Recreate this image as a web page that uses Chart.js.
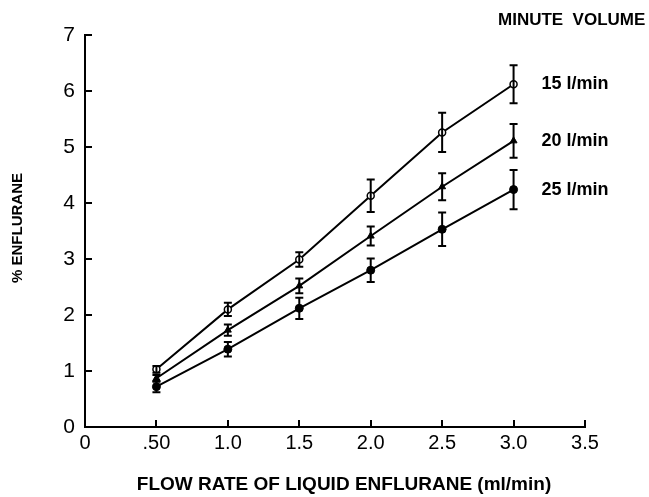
<!DOCTYPE html>
<html><head><meta charset="utf-8">
<script src="https://cdn.jsdelivr.net/npm/chart.js@4"></script>
<style>html,body{margin:0;padding:0;background:#fff}#wrap{width:649px;height:497px}</style>
</head><body><div id="wrap"><canvas id="c" width="649" height="497"></canvas></div>
<script>
const flowRates = [0.5, 1.0, 1.5, 2.0, 2.5, 3.0];
const series15 = [1.03, 2.10, 2.99, 4.13, 5.26, 6.12];
const err15 = [0.06, 0.12, 0.13, 0.29, 0.35, 0.34];
const series20 = [0.87, 1.73, 2.52, 3.41, 4.29, 5.11];
const err20 = [0.06, 0.10, 0.13, 0.17, 0.24, 0.30];
const series25 = [0.72, 1.39, 2.12, 2.80, 3.53, 4.24];
const err25 = [0.10, 0.13, 0.19, 0.21, 0.30, 0.35];
const seriesLabels = ['15 l/min', '20 l/min', '25 l/min'];
const xTicks = [0, 0.5, 1.0, 1.5, 2.0, 2.5, 3.0, 3.5];
const xTickLabels = ['0', '.50', '1.0', '1.5', '2.0', '2.5', '3.0', '3.5'];
const yTicks = [0, 1, 2, 3, 4, 5, 6, 7];
const xTitle = 'FLOW RATE OF LIQUID ENFLURANE (ml/min)';
const yTitle = '% ENFLURANE';
const legendTitle = 'MINUTE  VOLUME';

const FONT = '"Liberation Sans", Arial, sans-serif';
const errs = [err15, err20, err25];

function pts(vals) { return flowRates.map((x, i) => ({ x: x, y: vals[i] })); }

const decor = {
  id: 'decor',
  afterDatasetsDraw(chart) {
    const ctx = chart.ctx;
    const xs = chart.scales.x, ys = chart.scales.y;
    const a = chart.chartArea;
    ctx.save();
    ctx.strokeStyle = '#000';
    ctx.fillStyle = '#000';
    // inward tick marks
    ctx.lineWidth = 2;
    xTicks.forEach(v => {
      const px = Math.round(xs.getPixelForValue(v));
      ctx.beginPath(); ctx.moveTo(px, a.bottom); ctx.lineTo(px, a.bottom - 7); ctx.stroke();
    });
    yTicks.forEach(v => {
      const py = Math.round(ys.getPixelForValue(v));
      ctx.beginPath(); ctx.moveTo(a.left, py); ctx.lineTo(a.left + 7, py); ctx.stroke();
    });
    // error bars
    chart.data.datasets.forEach((ds, di) => {
      const e = errs[di];
      ds.data.forEach((p, i) => {
        const px = xs.getPixelForValue(p.x);
        const top = ys.getPixelForValue(p.y + e[i]);
        const bot = ys.getPixelForValue(p.y - e[i]);
        ctx.lineWidth = 2;
        ctx.beginPath();
        ctx.moveTo(px, top); ctx.lineTo(px, bot);
        ctx.moveTo(px - 4, top); ctx.lineTo(px + 4, top);
        ctx.moveTo(px - 4, bot); ctx.lineTo(px + 4, bot);
        ctx.stroke();
      });
    });
    // series labels at line ends
    ctx.font = 'bold 18px ' + FONT;
    ctx.textAlign = 'left';
    ctx.textBaseline = 'middle';
    chart.data.datasets.forEach((ds, di) => {
      const last = ds.data[ds.data.length - 1];
      ctx.fillText(seriesLabels[di], xs.getPixelForValue(last.x) + 28, ys.getPixelForValue(last.y));
    });
    // legend title
    ctx.font = 'bold 17px ' + FONT;
    ctx.textAlign = 'left';
    ctx.textBaseline = 'middle';
    ctx.fillText(legendTitle, 498, 20);
    // axis titles
    ctx.font = 'bold 19px ' + FONT;
    ctx.textAlign = 'center';
    ctx.fillText(xTitle, 344, 485);
    ctx.save();
    ctx.translate(18, 228);
    ctx.rotate(-Math.PI / 2);
    ctx.font = 'bold 15px ' + FONT;
    ctx.fillText(yTitle, 0, 0);
    ctx.restore();
    ctx.restore();
  }
};

new Chart(document.getElementById('c'), {
  type: 'line',
  data: {
    datasets: [
      { label: seriesLabels[0], data: pts(series15), borderColor: '#000', borderWidth: 2, pointStyle: 'circle', pointRadius: 3.5, pointBackgroundColor: '#fff', pointBorderColor: '#000', pointBorderWidth: 1.5, tension: 0 },
      { label: seriesLabels[1], data: pts(series20), borderColor: '#000', borderWidth: 2, pointStyle: 'triangle', pointRadius: 4, pointBackgroundColor: '#000', pointBorderColor: '#000', pointBorderWidth: 1, tension: 0 },
      { label: seriesLabels[2], data: pts(series25), borderColor: '#000', borderWidth: 2, pointStyle: 'circle', pointRadius: 4, pointBackgroundColor: '#000', pointBorderColor: '#000', pointBorderWidth: 1, tension: 0 }
    ]
  },
  options: {
    responsive: false,
    animation: false,
    devicePixelRatio: 1,
    layout: { padding: { top: 35, right: 64, bottom: 0, left: 0 } },
    plugins: { legend: { display: false }, tooltip: { enabled: false } },
    scales: {
      x: {
        type: 'linear', min: 0, max: 3.5,
        afterBuildTicks: s => { s.ticks = xTicks.map(v => ({ value: v })); },
        afterFit: s => { s.height = 70; },
        ticks: {
          color: '#000', font: { family: FONT, size: 20 }, padding: 4, maxRotation: 0, autoSkip: false,
          callback: v => { const i = xTicks.indexOf(v); return i >= 0 ? xTickLabels[i] : ''; }
        },
        grid: { display: true, drawOnChartArea: false, drawTicks: false },
        border: { display: true, color: '#000', width: 2 }
      },
      y: {
        type: 'linear', min: 0, max: 7,
        afterBuildTicks: s => { s.ticks = yTicks.map(v => ({ value: v })); },
        afterFit: s => { s.width = 85; },
        ticks: { color: '#000', font: { family: FONT, size: 21 }, padding: 10, autoSkip: false },
        grid: { display: true, drawOnChartArea: false, drawTicks: false },
        border: { display: true, color: '#000', width: 2 }
      }
    }
  },
  plugins: [decor]
});
</script>
</body></html>
